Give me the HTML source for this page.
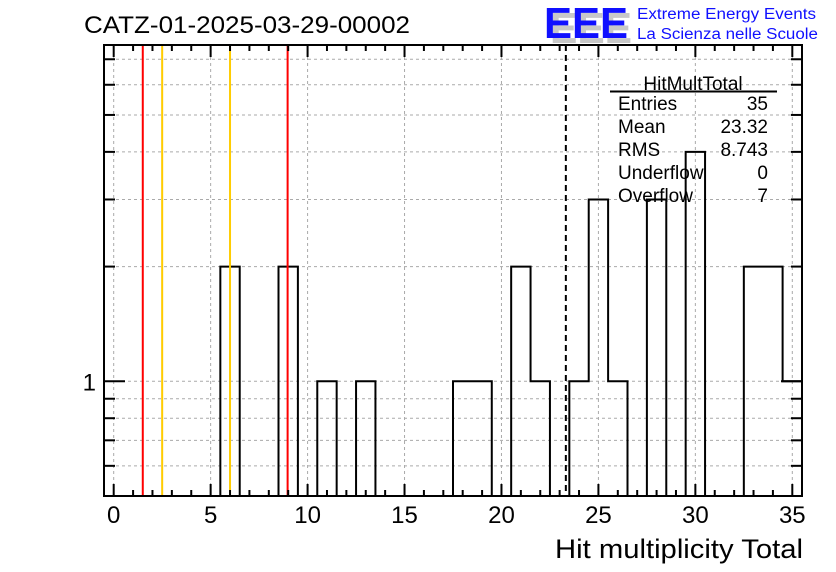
<!DOCTYPE html>
<html><head><meta charset="utf-8"><style>
body{margin:0;background:#fff}
svg{display:block;font-family:"Liberation Sans",sans-serif}
</style></head><body>
<svg id="c" width="836" height="572" viewBox="0 0 836 572">
<text x="84" y="33" font-size="24" textLength="326" lengthAdjust="spacingAndGlyphs">CATZ-01-2025-03-29-00002</text>
<g>
<text x="550" y="43" font-size="44" font-weight="bold" fill="#c8c8c8" textLength="82" lengthAdjust="spacingAndGlyphs">EEE</text>
<text x="544" y="38" font-size="44" font-weight="bold" fill="#1010ff" textLength="84" lengthAdjust="spacingAndGlyphs">EEE</text>
<text x="637" y="19" font-size="15.5" fill="#1010ff" textLength="179" lengthAdjust="spacingAndGlyphs">Extreme Energy Events</text>
<text x="637" y="39" font-size="15.5" fill="#1010ff" textLength="181" lengthAdjust="spacingAndGlyphs">La Scienza nelle Scuole</text>
</g>
<g id="grid"></g><g id="marks"></g><g id="axes"></g>
<g font-size="19">
<text x="693" y="90" text-anchor="middle">HitMultTotal</text>
<line x1="610" y1="91.5" x2="777" y2="91.5" stroke="#000" stroke-width="2"/>
<text x="618" y="110">Entries</text><text x="768" y="110" text-anchor="end">35</text>
<text x="618" y="133">Mean</text><text x="768" y="133" text-anchor="end">23.32</text>
<text x="618" y="156">RMS</text><text x="768" y="156" text-anchor="end">8.743</text>
<text x="618" y="179">Underflow</text><text x="768" y="179" text-anchor="end">0</text>
<text x="618" y="202">Overflow</text><text x="768" y="202" text-anchor="end">7</text>
</g>
<text x="803" y="558" font-size="27" text-anchor="end" textLength="248" lengthAdjust="spacingAndGlyphs">Hit multiplicity Total</text>
</svg>
<script>
const bins = [6,9,11,13,18,19,21,22,24,25,26,28,30,33,34,35];
const counts = [2,2,1,1,1,1,2,1,1,3,1,3,4,2,2,1];
const xTicks = [0,5,10,15,20,25,30,35];
const yMinor = [0.6,0.7,0.8,0.9,2,3,4,5,6,7];
const redLines = [1.5,8.97];
const orangeLines = [2.5,6.0];
const meanLine = [23.32];
const NS="http://www.w3.org/2000/svg";
const X0=104,X1=802,Y0=45,Y1=496,XMIN=-0.5,XMAX=35.5,YMIN=0.5,YMAX=7.63;
const xs=v=>X0+(v-XMIN)/(XMAX-XMIN)*(X1-X0);
const ys=v=>Y1-(Math.log10(v)-Math.log10(YMIN))/(Math.log10(YMAX)-Math.log10(YMIN))*(Y1-Y0);
function mk(p,t,a){const e=document.createElementNS(NS,t);for(const k in a)e.setAttribute(k,a[k]);p.appendChild(e);return e;}
const G=document.getElementById('grid'),M=document.getElementById('marks'),A=document.getElementById('axes');
xTicks.forEach(v=>{const l=mk(G,'line',{x1:xs(v),x2:xs(v),y1:Y0,y2:Y1,stroke:'#aaa','stroke-dasharray':'3,3'});
});
[...yMinor,1].forEach(v=>{const l=mk(G,'line',{x1:X0,x2:X1,y1:ys(v),y2:ys(v),stroke:'#aaa','stroke-dasharray':'3,3'});
});
const val={};bins.forEach((b,i)=>val[b]=counts[i]);
let d='';
for(let b=0;b<=35;b++){const v=val[b]||0;const y=v>0?ys(v):Y1;const xl=xs(b-0.5),xr=xs(b+0.5);
 if(b===0)d+=`M${xl},${y}`;else d+=`L${xl},${y}`;d+=`L${xr},${y}`;}
const h=mk(M,'path',{d:d,fill:'none',stroke:'#000','stroke-width':2});

redLines.forEach(v=>{const l=mk(M,'line',{x1:xs(v),x2:xs(v),y1:Y0,y2:Y1,stroke:'#ff0000','stroke-width':2});
});
orangeLines.forEach(v=>{const l=mk(M,'line',{x1:xs(v),x2:xs(v),y1:Y0,y2:Y1,stroke:'#ffcc00','stroke-width':2});
});
meanLine.forEach(v=>{const l=mk(M,'line',{x1:xs(v),x2:xs(v),y1:Y0,y2:Y1,stroke:'#000','stroke-width':2,'stroke-dasharray':'6,4'});
});
const f=mk(A,'rect',{x:X0,y:Y0,width:X1-X0,height:Y1-Y0,fill:'none',stroke:'#000','stroke-width':2});

for(let v=0;v<=35;v++){const L=v%5===0?12:6;
 mk(A,'line',{x1:xs(v),x2:xs(v),y1:Y1,y2:Y1-L,stroke:'#000','stroke-width':2});
 mk(A,'line',{x1:xs(v),x2:xs(v),y1:Y0,y2:Y0+L,stroke:'#000','stroke-width':2});}
xTicks.forEach(v=>{const t=mk(A,'text',{x:xs(v),y:523,'font-size':24,'text-anchor':'middle'});t.textContent=v;
});
[...yMinor,1].forEach(v=>{const L=v===1?21:11;
 mk(A,'line',{x1:X0,x2:X0+L,y1:ys(v),y2:ys(v),stroke:'#000','stroke-width':2});
 mk(A,'line',{x1:X1,x2:X1-L,y1:ys(v),y2:ys(v),stroke:'#000','stroke-width':2});});
const yl=mk(A,'text',{x:96,y:ys(1)+9,'font-size':24,'text-anchor':'end'});yl.textContent='1';

</script>
</body></html>
